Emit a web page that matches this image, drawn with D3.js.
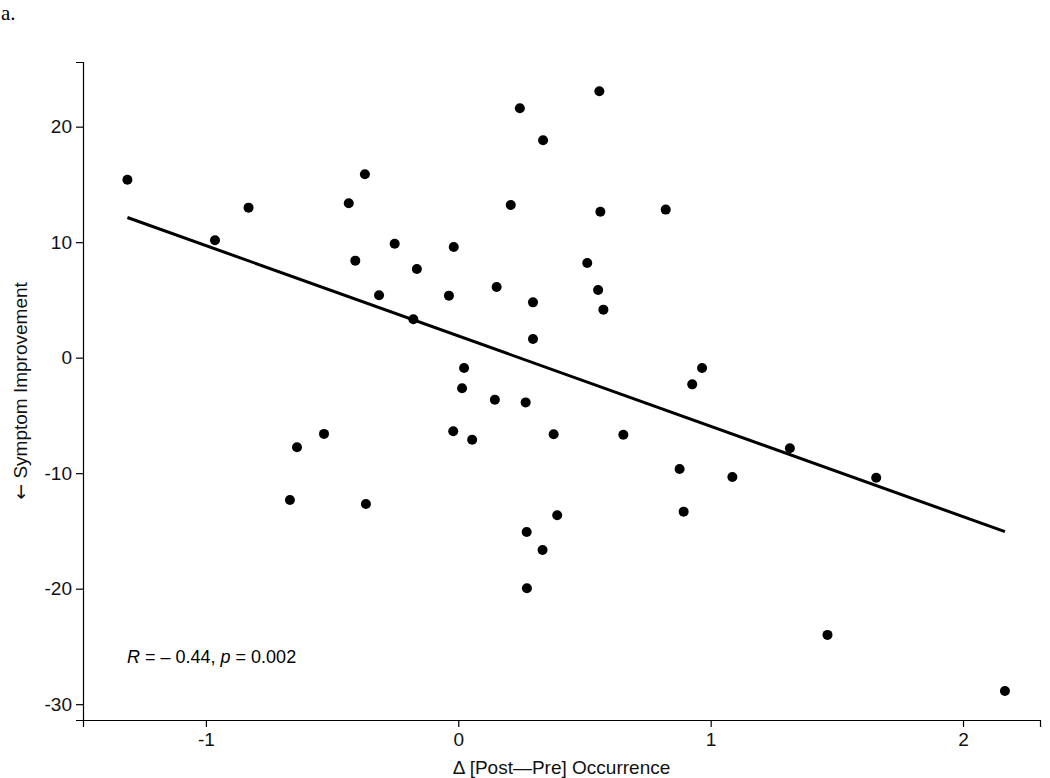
<!DOCTYPE html>
<html>
<head>
    <meta charset="utf-8">
    <title>d3 scatter with regression</title>
    <script src="https://cdn.jsdelivr.net/npm/d3@7/dist/d3.min.js" charset="utf-8"></script>
    <style>
        body { margin: 0; background: #fff; }
        text { font-family: "Liberation Sans", Arial, sans-serif; }
    </style>
</head>
<body>
</body>
<script>
    // values
    var deltaOccurrence = [-1.311, -0.964, -0.831, -0.434, -0.370, -0.252, -0.408, -0.164, -0.314, -0.178,
        -0.018, -0.037, 0.152, 0.208, 0.244, 0.023, 0.015, 0.559, 0.336, 0.563,
        0.822, 0.511, 0.554, 0.296, 0.575, 0.296, 0.966, 0.927, 0.145, 0.267,
        -0.020, 0.055, -0.532, -0.639, -0.667, -0.366, 0.271, 0.272, 0.378, 0.654,
        0.877, 1.086, 0.392, 0.893, 0.334, 1.314, 1.656, 1.463, 2.166];
    var symptomChange = [15.41, 10.16, 12.99, 13.37, 15.88, 9.87, 8.40, 7.68, 5.40, 3.32,
        9.58, 5.37, 6.12, 13.22, 21.60, -0.89, -2.65, 23.06, 18.82, 12.64,
        12.82, 8.20, 5.86, 4.79, 4.16, 1.62, -0.89, -2.31, -3.64, -3.87,
        -6.37, -7.10, -6.60, -7.76, -12.32, -12.67, -15.09, -19.97, -6.63, -6.67,
        -9.64, -10.33, -13.65, -13.33, -16.65, -7.84, -10.39, -24.00, -28.86];
    var xTicks = [-1, 0, 1, 2];
    var yTicks = [-30, -20, -10, 0, 10, 20];
    var statLabel = {r: '\u2013 0.44', p: '0.002'};

    var width = 1050, height = 778;
    var padding = {top: 62, right: 10, bottom: 58, left: 83};
    var svg = d3.select('body').append('svg').attr('width', width).attr('height', height);

    var points = deltaOccurrence.map(function (d, i) {
        return {x: d, y: symptomChange[i]};
    });

    var xScale = d3.scaleLinear().domain([-1.487, 2.305]).range([padding.left, width - padding.right]);
    var yScale = d3.scaleLinear().domain([-31.37, 25.6]).range([height - padding.bottom, padding.top]);

    // axes, plain hyphen for negatives like the original
    var plain = function (d) { return String(d); };
    var xAxis = d3.axisBottom(xScale).tickValues(xTicks).tickSize(7).tickPadding(6).tickFormat(plain);
    var yAxis = d3.axisLeft(yScale).tickValues(yTicks).tickSize(7).tickPadding(4).tickFormat(plain);

    var gx = svg.append('g').attr('transform', 'translate(0,' + (height - padding.bottom) + ')').call(xAxis);
    var gy = svg.append('g').attr('transform', 'translate(' + padding.left + ',0)').call(yAxis);
    [gx, gy].forEach(function (g) {
        g.select('.domain').attr('stroke', '#000').attr('stroke-width', 1.2);
        g.selectAll('.tick line').attr('stroke', '#000').attr('stroke-width', 1.2);
        g.selectAll('.tick text').attr('fill', '#111').attr('font-size', 19)
            .attr('font-family', '"Liberation Sans", Arial, sans-serif');
    });

    // regression line (least squares)
    var mx = d3.mean(points, function (d) { return d.x; });
    var my = d3.mean(points, function (d) { return d.y; });
    var sxy = d3.sum(points, function (d) { return (d.x - mx) * (d.y - my); });
    var sxx = d3.sum(points, function (d) { return (d.x - mx) * (d.x - mx); });
    var slope = sxy / sxx, intercept = my - slope * mx;
    var xExt = d3.extent(points, function (d) { return d.x; });
    svg.append('line')
        .attr('x1', xScale(xExt[0])).attr('y1', yScale(intercept + slope * xExt[0]))
        .attr('x2', xScale(xExt[1])).attr('y2', yScale(intercept + slope * xExt[1]))
        .attr('stroke', '#000').attr('stroke-width', 3);

    svg.selectAll('circle').data(points).enter().append('circle')
        .attr('cx', function (d) { return xScale(d.x); })
        .attr('cy', function (d) { return yScale(d.y); })
        .attr('r', 5)
        .attr('fill', '#000');

    // stat annotation
    var stat = svg.append('text').attr('x', 127).attr('y', 663).attr('font-size', 18).attr('fill', '#000');
    stat.append('tspan').attr('font-style', 'italic').text('R');
    stat.append('tspan').text(' = ' + statLabel.r + ', ');
    stat.append('tspan').attr('font-style', 'italic').text('p');
    stat.append('tspan').text(' = ' + statLabel.p);

    // axis titles
    svg.append('text').attr('x', (padding.left + width - padding.right) / 2).attr('y', 774)
        .attr('text-anchor', 'middle').attr('font-size', 19).attr('fill', '#111')
        .text('\u0394 [Post\u2014Pre] Occurrence');
    var ytitle = svg.append('text')
        .attr('transform', 'translate(27,' + ((padding.top + height - padding.bottom) / 2) + ') rotate(-90)')
        .attr('text-anchor', 'middle').attr('font-size', 19).attr('fill', '#111');
    ytitle.append('tspan').style('font-family', '"DejaVu Sans", sans-serif').text('\u2190');
    ytitle.append('tspan').text(' Symptom Improvement');

    // panel letter
    svg.append('text').attr('x', 1).attr('y', 20).attr('font-size', 21)
        .style('font-family', '"Liberation Serif", "Times New Roman", serif')
        .attr('fill', '#000').text('a.');
</script>
</html>
